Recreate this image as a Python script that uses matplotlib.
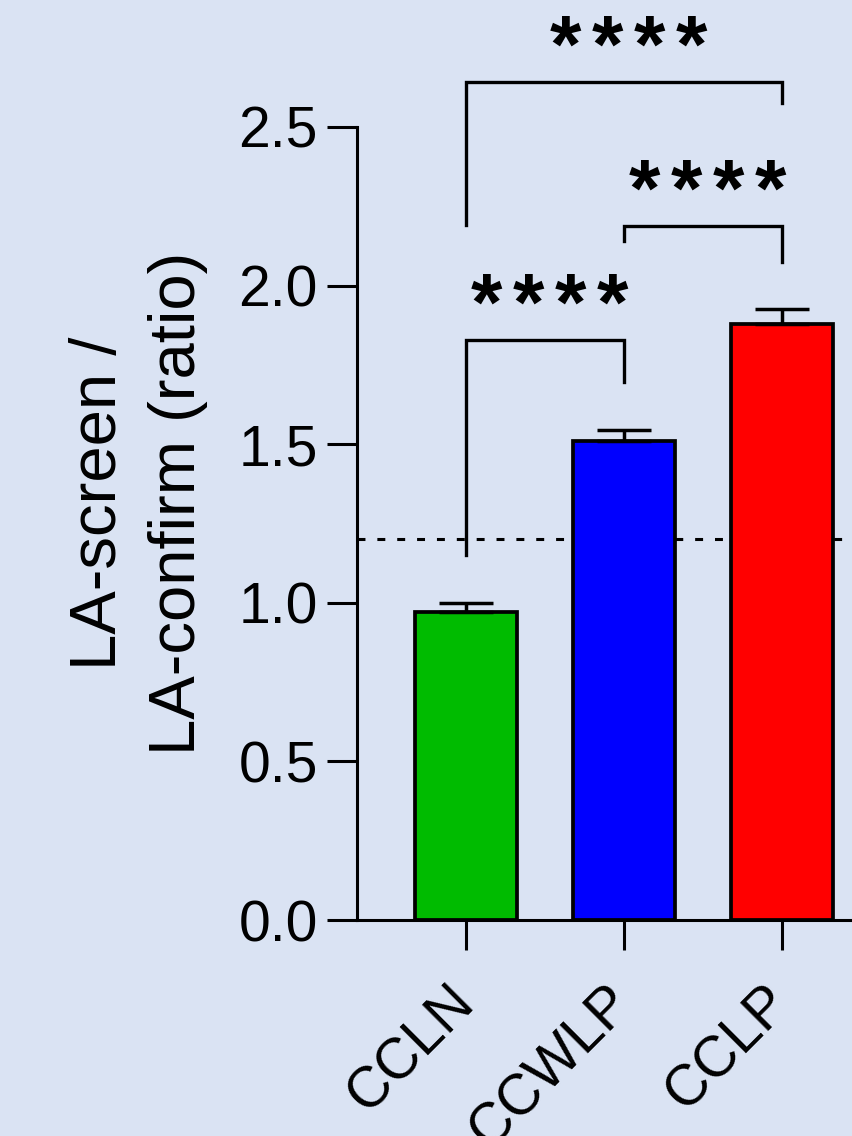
import matplotlib
matplotlib.use("Agg")
import matplotlib.pyplot as plt

plt.rcParams['font.family'] = ['Liberation Sans', 'DejaVu Sans']

categories = ["CCLN", "CCWLP", "CCLP"]
means = [0.97, 1.51, 1.88]
sem = [0.028, 0.035, 0.045]
colors = ["#00BB00", "#0000FF", "#FF0000"]
threshold = 1.2
yticks = [0.0, 0.5, 1.0, 1.5, 2.0, 2.5]
# comparisons: (group i, group j, bracket y, left leg bottom, right leg bottom, number of stars)
comparisons = [
    (0, 1, 1.828, 1.151, 1.696, 4),
    (1, 2, 2.188, 2.141, 2.074, 4),
    (0, 2, 2.642, 2.191, 2.576, 4),
]

bg = "#DAE3F3"
fig = plt.figure(figsize=(8.52, 11.36), dpi=100, facecolor=bg)
ax = fig.add_axes([357/852, 216/1136, (891-357)/852, (920-127)/1136])
ax.set_facecolor(bg)

x = list(range(len(categories)))
ax.axhline(threshold, color="black", lw=2.2, linestyle=(0, (2.6, 3.9)), zorder=1)
ax.bar(x, means, width=0.645, color=colors, edgecolor="black", linewidth=2.7, zorder=2)
ax.errorbar(x, means, yerr=[[0]*len(sem), sem], fmt="none", ecolor="black",
            elinewidth=2.5, capsize=19.4, capthick=2.5, zorder=3)

ax.set_xlim(-0.69, 2.69)
ax.set_ylim(0, 2.5)
ax.set_yticks(yticks)
ax.set_yticklabels([f"{v:.1f}" for v in yticks])
ax.set_xticks(x)
ax.set_xticklabels(categories, rotation=45, ha="right", va="center",
                   rotation_mode="anchor")

for s in ["top", "right"]:
    ax.spines[s].set_visible(False)
for s in ["left", "bottom"]:
    ax.spines[s].set_linewidth(2.2)

ax.tick_params(axis="both", length=21.6, width=2.2, labelsize=41, pad=6.5, color="black")
ax.tick_params(axis="x", pad=32)

ax.set_ylabel("LA-screen /\nLA-confirm (ratio)", fontsize=47, linespacing=1.4)
ax.yaxis.set_label_coords(-0.279, 0.526)

pitch_pt = 30.2
for i, j, yl, yb1, yb2, n in comparisons:
    ax.plot([i, i, j, j], [yb1, yl, yl, yb2], color="black", lw=2.4,
            clip_on=False, solid_joinstyle="miter", zorder=4)
    xc = (i + j) / 2 + 0.03
    for k in range(n):
        off = (k - (n - 1) / 2) * pitch_pt
        ax.annotate("*", xy=(xc, yl + 0.033), xytext=(off, 0),
                    textcoords="offset points", ha="center", va="baseline",
                    fontsize=58, fontweight="bold", annotation_clip=False)

fig.savefig("out.png", dpi=100, facecolor=bg)
